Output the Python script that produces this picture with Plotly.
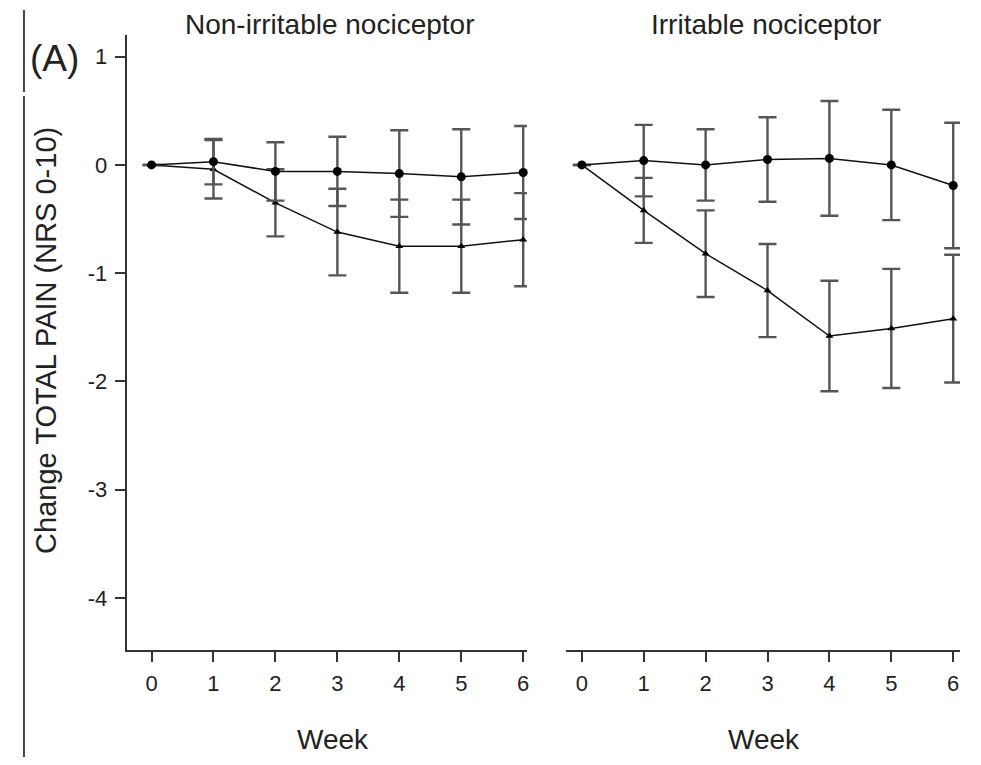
import plotly.graph_objects as go

weeks = [0, 1, 2, 3, 4, 5, 6]
week_labels = ["0", "1", "2", "3", "4", "5", "6"]

# Non-irritable nociceptor panel
non_a_mean = [0.0, 0.03, -0.06, -0.06, -0.08, -0.11, -0.07]
non_a_err = [0.0, 0.21, 0.27, 0.32, 0.40, 0.44, 0.43]
non_b_mean = [0.0, -0.04, -0.35, -0.62, -0.75, -0.75, -0.69]
non_b_err = [0.0, 0.27, 0.31, 0.40, 0.43, 0.43, 0.43]

# Irritable nociceptor panel
irr_a_mean = [0.0, 0.04, 0.0, 0.05, 0.06, 0.0, -0.19]
irr_a_err = [0.0, 0.33, 0.33, 0.39, 0.53, 0.51, 0.58]
irr_b_mean = [0.0, -0.42, -0.82, -1.16, -1.58, -1.51, -1.42]
irr_b_err = [0.0, 0.30, 0.40, 0.43, 0.51, 0.55, 0.59]

y_ticks = [1, 0, -1, -2, -3, -4]

# page has an 8px body margin; figure sized to fit the 981x765 window
OFF = 8
W, H = 981 - 2 * OFF, 765 - 2 * OFF
FONT = "Liberation Sans, Arial, sans-serif"

def px_x(p):
    return (p - OFF) / W

def px_y(p):
    return 1 - (p - OFF) / H

fig = go.Figure()

def add_series(x, y, err, xa, ya, symbol, size):
    fig.add_trace(go.Scatter(
        x=x, y=y, xaxis=xa, yaxis=ya, mode="lines+markers",
        line=dict(color="#111", width=1.5),
        marker=dict(symbol=symbol, size=size, color="#000"),
        error_y=dict(type="data", array=err, visible=True,
                     color="#555", thickness=2.4, width=9),
        showlegend=False, cliponaxis=False,
    ))

add_series(weeks, non_b_mean, non_b_err, "x", "y", "triangle-up", 7)
add_series(weeks, non_a_mean, non_a_err, "x", "y", "circle", 9)
add_series(weeks, irr_b_mean, irr_b_err, "x2", "y2", "triangle-up", 7)
add_series(weeks, irr_a_mean, irr_a_err, "x2", "y2", "circle", 9)

ydom = [px_y(650), px_y(35)]
yrange = [-4.48, 1.20]

common_x = dict(
    tickmode="array", tickvals=weeks, ticktext=week_labels,
    showline=True, linecolor="#333", linewidth=2,
    ticks="outside", ticklen=10, tickwidth=1.5, tickcolor="#333",
    tickfont=dict(family=FONT, size=22, color="#222"),
    ticklabelstandoff=3,
    showgrid=False, zeroline=False,
)

fig.update_layout(
    width=W, height=H,
    margin=dict(l=0, r=0, t=0, b=0),
    paper_bgcolor="white", plot_bgcolor="white",
    xaxis=dict(common_x, domain=[px_x(127), px_x(528)], range=[-0.4, 6.06], anchor="y"),
    xaxis2=dict(common_x, domain=[px_x(567), px_x(962)], range=[-0.258, 6.11], anchor="y2"),
    yaxis=dict(
        domain=ydom, range=yrange, anchor="x",
        tickmode="array", tickvals=y_ticks, ticktext=[str(v) for v in y_ticks],
        showline=True, linecolor="#333", linewidth=2,
        ticks="outside", ticklen=10, tickwidth=1.5, tickcolor="#333",
        tickfont=dict(family=FONT, size=22, color="#222"),
        ticklabelstandoff=3,
        showgrid=False, zeroline=False,
    ),
    yaxis2=dict(
        domain=ydom, range=yrange, anchor="x2",
        showline=False, showticklabels=False, ticks="",
        showgrid=False, zeroline=False,
    ),
)

annots = [
    dict(text="Non-irritable nociceptor", x=330, y=24, size=28),
    dict(text="Irritable nociceptor", x=768, y=24, size=28),
    dict(text="Week", x=334, y=739, size=28),
    dict(text="Week", x=766, y=739, size=28),
    dict(text="(A)", x=55, y=58, size=37),
]
for a in annots:
    fig.add_annotation(text=a["text"], x=px_x(a["x"]), y=px_y(a["y"]), xref="paper", yref="paper",
                       xanchor="center", yanchor="middle", showarrow=False,
                       font=dict(family=FONT, size=a["size"], color="#222"))

fig.add_annotation(text="Change TOTAL PAIN (NRS 0-10)", x=px_x(46), y=px_y(340),
                   xref="paper", yref="paper", xanchor="center", yanchor="middle",
                   showarrow=False, textangle=-90,
                   font=dict(family=FONT, size=29, color="#222"))

# framing vertical rules at left edge
fig.add_shape(type="line", xref="paper", yref="paper",
              x0=px_x(24), x1=px_x(24), y0=px_y(10), y1=px_y(92),
              line=dict(color="#444", width=2))
fig.add_shape(type="line", xref="paper", yref="paper",
              x0=px_x(24), x1=px_x(24), y0=px_y(96), y1=0,
              line=dict(color="#444", width=2))

fig.write_html("out.html")
